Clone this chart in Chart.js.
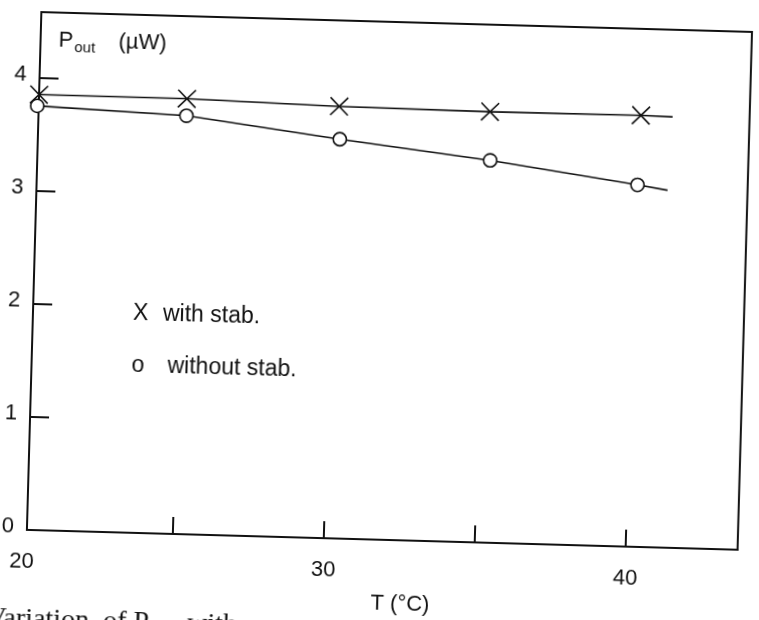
<!DOCTYPE html>
<html>
<head>
<meta charset="utf-8">
<script src="https://cdn.jsdelivr.net/npm/chart.js@4.4.1/dist/chart.umd.min.js"></script>
<style>
  html, body { margin: 0; padding: 0; background: #fff; overflow: hidden; width: 759px; height: 620px; }
  /* the scanned figure sits slightly skewed on the page */
  #chart { position: absolute; left: 0; top: 0; transform: rotate(1.6deg); transform-origin: 392.5px 280.75px; }
</style>
</head>
<body>
<canvas id="chart" width="759" height="640"></canvas>
<script>
// temperature (°C) and output power (µW); last entry of each is where the drawn line ends (no marker)
const withStabT = [20.15, 25.05, 30.1, 35.1, 40.1, 41.15];
const withStabP = [3.85, 3.85, 3.82, 3.81, 3.815, 3.81];
const withoutStabT = [20.1, 25.05, 30.15, 35.15, 40.05, 41.05];
const withoutStabP = [3.75, 3.70, 3.53, 3.38, 3.20, 3.16];

const xTicks = [20, 25, 30, 35, 40];
const xTickLabels = ['20', '', '30', '', '40'];
const yTicks = ['0', '1', '2', '3', '4'];

const INK = '#111';
const SANS = '"Liberation Sans", Arial, sans-serif';
const SERIF = '"Liberation Serif", "Times New Roman", serif';

function toPoints(xs, ys) {
    return xs.map((x, i) => ({ x: x, y: ys[i] }));
}

// keep the plot box where it is, labels may hang over the edges
function fixBox(size) {
    return (scale) => {
        if (scale.isHorizontal()) scale.height = size; else scale.width = size;
        scale.paddingTop = 0;
        scale.paddingBottom = 0;
        scale.paddingLeft = 0;
        scale.paddingRight = 0;
    };
}

// top/right frame lines and the free text of the figure
const figureText = {
    id: 'figureText',
    afterDraw(chart) {
        const { ctx, chartArea: a } = chart;
        ctx.save();
        ctx.strokeStyle = INK;
        ctx.lineWidth = 2;
        ctx.beginPath();
        ctx.moveTo(a.left, a.top);
        ctx.lineTo(a.right, a.top);
        ctx.lineTo(a.right, a.bottom);
        ctx.stroke();

        ctx.fillStyle = INK;
        ctx.textBaseline = 'alphabetic';
        ctx.textAlign = 'left';

        // axis name inside the plot
        ctx.font = '22px ' + SANS;
        ctx.fillText('P', a.left + 18, a.top + 34);
        ctx.fillText('(\u00b5W)', a.left + 78, a.top + 34);
        ctx.font = '15px ' + SANS;
        ctx.fillText('out', a.left + 34, a.top + 39);

        // key
        ctx.font = '23px ' + SANS;
        ctx.fillText('X', a.left + 100, a.top + 305);
        ctx.fillText('with stab.', a.left + 130, a.top + 305);
        ctx.fillText('o', a.left + 100, a.top + 357);
        ctx.fillText('without stab.', a.left + 136, a.top + 357);

        // x axis name
        ctx.font = '22px ' + SANS;
        ctx.textAlign = 'center';
        ctx.fillText('T (\u00b0C)', a.left + 375, a.bottom + 70);

        // caption, cut by the page edge
        ctx.textAlign = 'left';
        ctx.font = '28px ' + SERIF;
        ctx.fillText('Variation  of P', -4, 637);
        const w = ctx.measureText('Variation  of P').width;
        ctx.font = '19px ' + SERIF;
        ctx.fillText('out', -4 + w, 643);
        const w2 = ctx.measureText('out').width;
        ctx.font = '28px ' + SERIF;
        ctx.fillText('  with', -4 + w + w2, 637);
        ctx.restore();
    }
};

const ctx = document.getElementById('chart').getContext('2d');
new Chart(ctx, {
    type: 'line',
    data: {
        datasets: [
            {
                label: 'with stab.',
                data: toPoints(withStabT, withStabP),
                borderColor: INK,
                borderWidth: 1.6,
                pointStyle: 'crossRot',
                pointRadius: [12.5, 12.5, 12.5, 12.5, 12.5, 0],
                pointBorderWidth: 1.6,
                pointBorderColor: INK,
                pointBackgroundColor: INK,
                tension: 0,
                clip: false
            },
            {
                label: 'without stab.',
                data: toPoints(withoutStabT, withoutStabP),
                borderColor: INK,
                borderWidth: 1.6,
                pointStyle: 'circle',
                pointRadius: [6.6, 6.6, 6.6, 6.6, 6.6, 0],
                pointBorderWidth: 1.6,
                pointBorderColor: INK,
                pointBackgroundColor: '#fff',
                tension: 0,
                clip: false
            }
        ]
    },
    options: {
        responsive: false,
        animation: false,
        layout: { padding: { top: 22, right: 8, left: 0, bottom: 0 } },
        plugins: {
            legend: { display: false },
            tooltip: { enabled: false }
        },
        scales: {
            x: {
                type: 'linear',
                min: 20.15,
                max: 43.7,
                afterBuildTicks: (scale) => { scale.ticks = xTicks.map(v => ({ value: v })); },
                afterFit: fixBox(100),
                border: { display: true, color: INK, width: 2 },
                grid: {
                    drawOnChartArea: false,
                    drawTicks: true,
                    tickLength: -17,
                    lineWidth: 2,
                    color: (c) => (c.tick && c.tick.value < 20.15 ? 'rgba(0,0,0,0)' : INK)
                },
                ticks: {
                    autoSkip: false,
                    maxRotation: 0,
                    padding: 36,
                    color: INK,
                    font: { family: SANS, size: 22 },
                    callback: (v, i) => xTickLabels[i]
                }
            },
            y: {
                min: 0,
                max: 4.58,
                afterFit: fixBox(34),
                border: { display: true, color: INK, width: 2 },
                grid: {
                    drawOnChartArea: false,
                    drawTicks: true,
                    tickLength: -19,
                    lineWidth: 2,
                    color: INK
                },
                ticks: {
                    stepSize: 1,
                    includeBounds: false,
                    padding: 32,
                    labelOffset: -3,
                    color: INK,
                    font: { family: SANS, size: 22 },
                    callback: (v, i) => yTicks[i]
                }
            }
        }
    },
    plugins: [figureText]
});
</script>
</body>
</html>
